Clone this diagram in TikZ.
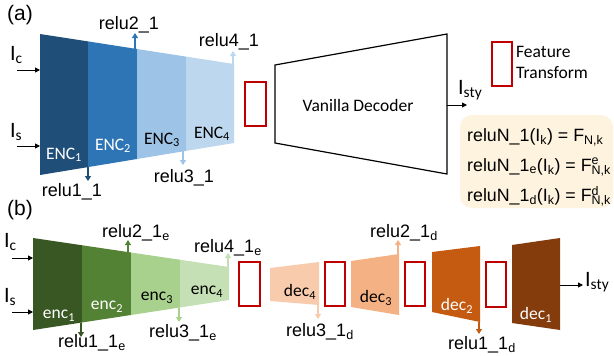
\documentclass[tikz,border=0pt]{standalone}
\usepackage{fontspec}
\setmainfont{Carlito}
\newfontfamily\arialfont{Liberation Sans}
\usetikzlibrary{arrows.meta}
\definecolor{encAa}{HTML}{1F4E79}
\definecolor{encAb}{HTML}{2E75B6}
\definecolor{encAc}{HTML}{9DC3E6}
\definecolor{encAd}{HTML}{BDD7EE}
\definecolor{encBa}{HTML}{385723}
\definecolor{encBb}{HTML}{548235}
\definecolor{encBc}{HTML}{A9D18E}
\definecolor{encBd}{HTML}{C5E0B4}
\definecolor{decd}{HTML}{F8CBAD}
\definecolor{decc}{HTML}{F4B183}
\definecolor{decb}{HTML}{C55A11}
\definecolor{deca}{HTML}{843C0C}
\definecolor{ftred}{HTML}{C00000}
\definecolor{cream}{RGB}{253,243,222}
\begin{document}
\begin{tikzpicture}[x=1pt,y=-1pt,
  lbl/.style={font=\arialfont\fontsize{18}{20}\selectfont, inner sep=0pt},
  frm/.style={font=\arialfont\fontsize{17.8}{20}\selectfont, inner sep=0pt, anchor=west},
  panel/.style={font=\arialfont\fontsize{21}{24}\selectfont, inner sep=0pt},
  blk/.style={font=\fontsize{17.5}{20}\selectfont, inner sep=0pt},
  io/.style={font=\fontsize{22}{24}\selectfont, inner sep=0pt, anchor=west},
  feat/.style={draw=ftred, line width=1.8pt},
  tap/.style={line width=1.8pt, -{Triangle[length=5pt,width=6pt]}},
  inarrow/.style={line width=1pt, -{Triangle[length=5pt,width=5pt]}}]
\useasboundingbox (0,0) rectangle (614,356);

% ---------------- (a) ----------------
\node[panel] (pa) at (20,15) {(a)};

% encoder stages
\fill[encAa] (40,34) -- (88,41.4) -- (88,167.1) -- (40,175) -- cycle;
\fill[encAb] (88,41.4) -- (137,49) -- (137,159) -- (88,167.1) -- cycle;
\fill[encAc] (137,49) -- (186,56.6) -- (186,150.9) -- (137,159) -- cycle;
\fill[encAd] (186,56.6) -- (234,64) -- (234,143) -- (186,150.9) -- cycle;
\node[blk, text=white] (A1) at (64,155) {ENC\textsubscript{1}};
\node[blk, text=white] (A2) at (113,146) {ENC\textsubscript{2}};
\node[blk] (A3) at (162,140) {ENC\textsubscript{3}};
\node[blk] (A4) at (212,134) {ENC\textsubscript{4}};

% inputs
\coordinate (icA0) at (17,70);  \coordinate (icA1) at (40,70);
\coordinate (isA0) at (17,146); \coordinate (isA1) at (40,146);
\draw[inarrow] (icA0) -- (icA1);
\draw[inarrow] (isA0) -- (isA1);
\node[io] (icA) at (10,55) {I\textsubscript{c}};
\node[io] (isA) at (10,132) {I\textsubscript{s}};

% feature taps
\coordinate (t2a) at (135,48.7); \coordinate (t2b) at (135,33);
\coordinate (t4a) at (233,63.8); \coordinate (t4b) at (233,51);
\coordinate (t1a) at (88,167);   \coordinate (t1b) at (88,181);
\coordinate (t3a) at (183,151.4);\coordinate (t3b) at (183,165);
\draw[tap, encAb] (t2a) -- (t2b);
\draw[tap, encAd] (t4a) -- (t4b);
\draw[tap, encAa] (t1a) -- (t1b);
\draw[tap, encAc] (t3a) -- (t3b);
\node[lbl] (r21) at (129,25) {relu2\_1};
\node[lbl] (r41) at (229,42) {relu4\_1};
\node[lbl] (r11) at (72,192) {relu1\_1};
\node[lbl] (r31) at (184,178) {relu3\_1};

% feature transform
\draw[feat] (245,82) rectangle (266,126);

% decoder
\draw[line width=1.2pt] (275,65) -- (447,34) -- (447,174) -- (275,143) -- cycle;
\node[blk] (vd) at (358,105) {Vanilla Decoder};
\coordinate (oA0) at (447,105); \coordinate (oA1) at (467,105);
\draw[inarrow] (oA0) -- (oA1);
\node[io] (istyA) at (458,90) {I\textsubscript{sty}};

% legend
\draw[feat] (492,42) rectangle (512,86);
\node[blk, anchor=west] (lf1) at (516,52) {Feature};
\node[blk, anchor=west] (lf2) at (516,73) {Transform};

\fill[cream, rounded corners=12pt] (460,115) rectangle (613,208);
\node[frm] (f1) at (467,137) {reluN\_1(I\textsubscript{k}) = F\textsubscript{N,k}};
\node[frm] (f2) at (467,167) {reluN\_1\textsubscript{e}(I\textsubscript{k}) = F\rlap{\textsuperscript{e}}\textsubscript{N,k}};
\node[frm] (f3) at (467,196) {reluN\_1\textsubscript{d}(I\textsubscript{k}) = F\rlap{\textsuperscript{d}}\textsubscript{N,k}};

% ---------------- (b) ----------------
\node[panel] (pb) at (20,210) {(b)};

\fill[encBa] (33,238) -- (82,245.25) -- (82,322.5) -- (33,330) -- cycle;
\fill[encBb] (82,245.25) -- (131,252.5) -- (131,315) -- (82,322.5) -- cycle;
\fill[encBc] (131,252.5) -- (180,259.75) -- (180,307.5) -- (131,315) -- cycle;
\fill[encBd] (180,259.75) -- (229,267) -- (229,300) -- (180,307.5) -- cycle;
\node[blk, text=white] (B1) at (59,316) {enc\textsubscript{1}};
\node[blk, text=white] (B2) at (107,307) {enc\textsubscript{2}};
\node[blk] (B3) at (157,298) {enc\textsubscript{3}};
\node[blk] (B4) at (207,292) {enc\textsubscript{4}};

\coordinate (icB0) at (12,258); \coordinate (icB1) at (33,258);
\coordinate (isB0) at (12,312); \coordinate (isB1) at (33,312);
\draw[inarrow] (icB0) -- (icB1);
\draw[inarrow] (isB0) -- (isB1);
\node[io] (icB) at (4,242) {I\textsubscript{c}};
\node[io] (isB) at (4,297) {I\textsubscript{s}};

\coordinate (u2a) at (128,252);   \coordinate (u2b) at (128,240);
\coordinate (u4a) at (228,266.8); \coordinate (u4b) at (228,253);
\coordinate (u1a) at (81,322.7);  \coordinate (u1b) at (81,337);
\coordinate (u3a) at (179,307.7); \coordinate (u3b) at (179,322);
\draw[tap, encBb] (u2a) -- (u2b);
\draw[tap, encBd] (u4a) -- (u4b);
\draw[tap, encBa] (u1a) -- (u1b);
\draw[tap, encBc] (u3a) -- (u3b);
\node[lbl] (re2) at (136,233) {relu2\_1\textsubscript{e}};
\node[lbl] (re4) at (228,248) {relu4\_1\textsubscript{e}};
\node[lbl] (re1) at (92,343) {relu1\_1\textsubscript{e}};
\node[lbl] (re3) at (183,333) {relu3\_1\textsubscript{e}};

% feature transforms between stages
\draw[feat] (239,262) rectangle (260,306);
\draw[feat] (325,262) rectangle (345,306);
\draw[feat] (405,262) rectangle (425,306);
\draw[feat] (486,262) rectangle (506,307);

% decoder stages
\fill[decd] (270,268) -- (319,262) -- (319,305) -- (270,301) -- cycle;
\fill[decc] (351,261) -- (399,254) -- (399,315) -- (351,307) -- cycle;
\fill[decb] (432,252) -- (480,246) -- (480,322) -- (432,312) -- cycle;
\fill[deca] (512,245) -- (560,238) -- (560,330) -- (512,323) -- cycle;
\node[blk] (D4) at (300,292) {dec\textsubscript{4}};
\node[blk] (D3) at (376,298) {dec\textsubscript{3}};
\node[blk, text=white] (D2) at (457,306) {dec\textsubscript{2}};
\node[blk, text=white] (D1) at (536,315) {dec\textsubscript{1}};

\coordinate (v3a) at (318,305); \coordinate (v3b) at (318,319);
\coordinate (v2a) at (398,254); \coordinate (v2b) at (398,240);
\coordinate (v1a) at (479,322); \coordinate (v1b) at (479,334);
\draw[tap, decd] (v3a) -- (v3b);
\draw[tap, decc] (v2a) -- (v2b);
\draw[tap, decb] (v1a) -- (v1b);
\node[lbl] (rd3) at (320,332) {relu3\_1\textsubscript{d}};
\node[lbl] (rd2) at (404,233) {relu2\_1\textsubscript{d}};
\node[lbl] (rd1) at (482,345) {relu1\_1\textsubscript{d}};

\coordinate (oB0) at (560,285); \coordinate (oB1) at (583,285);
\draw[inarrow] (oB0) -- (oB1);
\node[io] (istyB) at (585,282) {I\textsubscript{sty}};
\end{tikzpicture}
\end{document}
